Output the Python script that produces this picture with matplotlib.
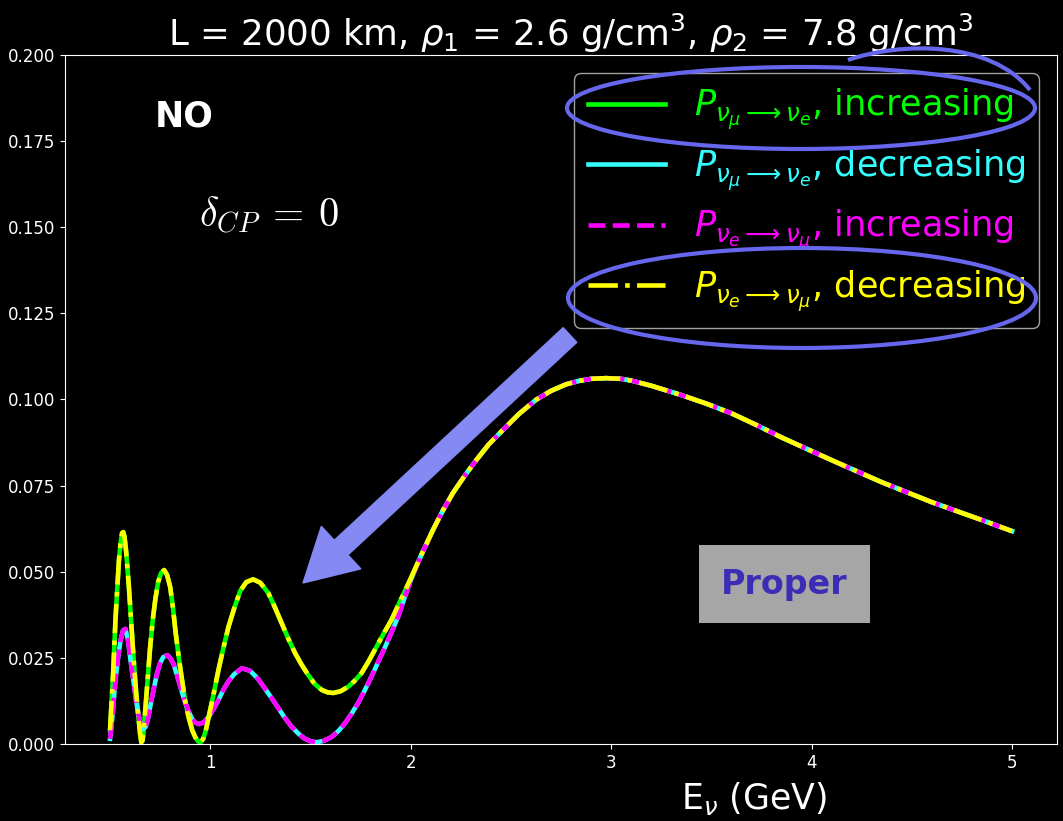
import matplotlib
matplotlib.use("Agg")
import matplotlib.pyplot as plt
import matplotlib.patches as mpatches
from matplotlib.path import Path
from matplotlib.transforms import IdentityTransform

# krzywa "gorna" przy niskich energiach (zielona / zolta)
E_up = [0.500, 0.515, 0.527, 0.544, 0.552, 0.560, 0.566, 0.572, 0.580, 0.587,
        0.594, 0.606, 0.618, 0.630, 0.643, 0.650, 0.656, 0.662, 0.668, 0.677,
        0.688, 0.700, 0.713, 0.726, 0.740, 0.755, 0.770, 0.785, 0.800, 0.813,
        0.826, 0.842, 0.859, 0.875, 0.892, 0.910, 0.925, 0.940, 0.952, 0.965,
        0.978, 0.992, 1.015, 1.041, 1.066, 1.091, 1.120, 1.150, 1.180, 1.214,
        1.250, 1.290, 1.320, 1.357, 1.390, 1.423, 1.456, 1.489, 1.520, 1.556,
        1.585, 1.613, 1.650, 1.688, 1.720, 1.755, 1.790, 1.821, 1.860, 1.904,
        1.950, 2.000]
P_up = [0.0040, 0.0200, 0.0360, 0.0530, 0.0580, 0.0612, 0.0615, 0.0602, 0.0560, 0.0510,
        0.0456, 0.0350, 0.0244, 0.0150, 0.0070, 0.0030, 0.0005, 0.0010, 0.0040, 0.0107,
        0.0190, 0.0280, 0.0360, 0.0420, 0.0470, 0.0497, 0.0505, 0.0490, 0.0456, 0.0400,
        0.0330, 0.0255, 0.0186, 0.0125, 0.0078, 0.0040, 0.0020, 0.0007, 0.0005, 0.0015,
        0.0040, 0.0078, 0.0140, 0.0215, 0.0280, 0.0340, 0.0395, 0.0445, 0.0470, 0.0478,
        0.0468, 0.0438, 0.0400, 0.0350, 0.0305, 0.0264, 0.0230, 0.0200, 0.0175, 0.0157,
        0.0150, 0.0148, 0.0153, 0.0166, 0.0183, 0.0206, 0.0240, 0.0273, 0.0315, 0.0360,
        0.0418, 0.0480]

# krzywa "dolna" przy niskich energiach (cyan / magenta)
E_lo = [0.500, 0.512, 0.527, 0.540, 0.552, 0.565, 0.577, 0.590, 0.602, 0.615,
        0.627, 0.640, 0.652, 0.665, 0.678, 0.690, 0.700, 0.718, 0.735, 0.750,
        0.765, 0.785, 0.800, 0.817, 0.834, 0.851, 0.870, 0.892, 0.910, 0.925,
        0.945, 0.965, 0.992, 1.015, 1.041, 1.066, 1.091, 1.120, 1.158, 1.200,
        1.240, 1.280, 1.323, 1.365, 1.406, 1.440, 1.473, 1.500, 1.531, 1.565,
        1.605, 1.640, 1.672, 1.705, 1.738, 1.770, 1.804, 1.837, 1.871, 1.905,
        1.937, 1.970, 2.000]
P_lo = [0.0015, 0.0080, 0.0186, 0.0250, 0.0300, 0.0330, 0.0334, 0.0300, 0.0244, 0.0190,
        0.0137, 0.0090, 0.0060, 0.0043, 0.0050, 0.0075, 0.0107, 0.0160, 0.0206, 0.0235,
        0.0252, 0.0258, 0.0250, 0.0232, 0.0200, 0.0166, 0.0128, 0.0095, 0.0072, 0.0062,
        0.0058, 0.0062, 0.0078, 0.0100, 0.0128, 0.0158, 0.0182, 0.0203, 0.0220, 0.0212,
        0.0188, 0.0155, 0.0119, 0.0082, 0.0050, 0.0030, 0.0015, 0.0008, 0.0005, 0.0009,
        0.0020, 0.0038, 0.0060, 0.0088, 0.0119, 0.0155, 0.0195, 0.0237, 0.0280, 0.0325,
        0.0369, 0.0425, 0.0475]

# wspolna czesc powyzej 2 GeV
E_hi = [2.050, 2.111, 2.160, 2.210, 2.270, 2.327, 2.390, 2.459, 2.540, 2.625,
        2.700, 2.775, 2.840, 2.900, 2.975, 3.050, 3.100, 3.200, 3.350, 3.475,
        3.600, 3.725, 3.850, 3.975, 4.100, 4.225, 4.350, 4.475, 4.600, 4.725,
        4.850, 5.000]
P_hi = [0.0545, 0.0621, 0.0677, 0.0728, 0.0779, 0.0824, 0.0870, 0.0911, 0.0958, 0.0999,
        0.1025, 0.1044, 0.1054, 0.1060, 0.1062, 0.1060, 0.1055, 0.1040, 0.1013, 0.0988,
        0.0960, 0.0926, 0.0890, 0.0857, 0.0824, 0.0792, 0.0760, 0.0731, 0.0702, 0.0676,
        0.0650, 0.0618]

E_green = E_up + E_hi
P_green = P_up + P_hi
E_yellow = E_up + E_hi
P_yellow = P_up + P_hi
E_cyan = E_lo + E_hi
P_cyan = P_lo + P_hi
E_magenta = E_lo + E_hi
P_magenta = P_lo + P_hi

labels = [r"$P_{\nu_\mu \longrightarrow \nu_e}$, increasing",
          r"$P_{\nu_\mu \longrightarrow \nu_e}$, decreasing",
          r"$P_{\nu_e \longrightarrow \nu_\mu}$, increasing",
          r"$P_{\nu_e \longrightarrow \nu_\mu}$, decreasing"]

plt.style.use("dark_background")
fig = plt.figure(figsize=(10.63, 8.21), dpi=100)
ax = fig.add_axes([0.0611, 0.0938, 0.9333, 0.8392])

lw = 3.3
ax.plot(E_green, P_green, color="#00ff00", lw=lw, label=labels[0])
ax.plot(E_cyan, P_cyan, color="#33ffff", lw=lw, label=labels[1])
ax.plot(E_magenta, P_magenta, color="#ff00ff", lw=lw, ls="--", label=labels[2])
ax.plot(E_yellow, P_yellow, color="#ffff00", lw=lw, ls="-.", label=labels[3])

ax.set_ylim(0, 0.2)
ax.tick_params(labelsize=12)
ax.set_xlabel(r"E$_\nu$ (GeV)", fontsize=25)
ax.xaxis.set_label_coords(0.695, -0.052)
ax.set_title(r"L = 2000 km, $\rho_1$ = 2.6 g/cm$^3$, $\rho_2$ = 7.8 g/cm$^3$",
             fontsize=25.7, x=0.51)

ax.legend(loc="upper right", fontsize=25.3, labelcolor="linecolor", handlelength=2.2,
          labelspacing=0.42)

ax.text(0.12, 0.911, "NO", transform=ax.transAxes, fontsize=25, color="white",
        weight="bold", ha="center", va="center")
ax.text(0.206, 0.768, r"$\delta_{CP}\:=\:0$", transform=ax.transAxes, fontsize=29,
        color="white", ha="center", va="center", math_fontfamily="cm")
ax.text(0.725, 0.232, "Proper", transform=ax.transAxes, fontsize=24, color="#3b2db5",
        weight="bold", ha="center", va="center",
        bbox=dict(facecolor="#a6a6a6", edgecolor="none", pad=16))

# dorysowane adnotacje (strzalka i petle), w pikselach obrazka
H = 821
arrow = mpatches.FancyArrow(570, H - 335, 303 - 570, 335 - 583, width=20,
                            head_width=58, head_length=52, length_includes_head=True,
                            color="#8489f3", transform=IdentityTransform())
fig.add_artist(arrow)

loop_col = "#6767ee"
e1 = mpatches.Ellipse((801, H - 108), 468, 82, fill=False, ec=loop_col, lw=3,
                      transform=IdentityTransform())
fig.add_artist(e1)
e2 = mpatches.Ellipse((802, H - 298), 468, 100, fill=False, ec=loop_col, lw=3,
                      transform=IdentityTransform())
fig.add_artist(e2)
extra = Path([(848, H - 60), (900, H - 42), (990, H - 40), (1030, H - 90)],
             [Path.MOVETO, Path.CURVE4, Path.CURVE4, Path.CURVE4])
fig.add_artist(mpatches.PathPatch(extra, fill=False, ec=loop_col, lw=3,
                                  transform=IdentityTransform()))

fig.savefig("out.png", dpi=100, facecolor="black")
